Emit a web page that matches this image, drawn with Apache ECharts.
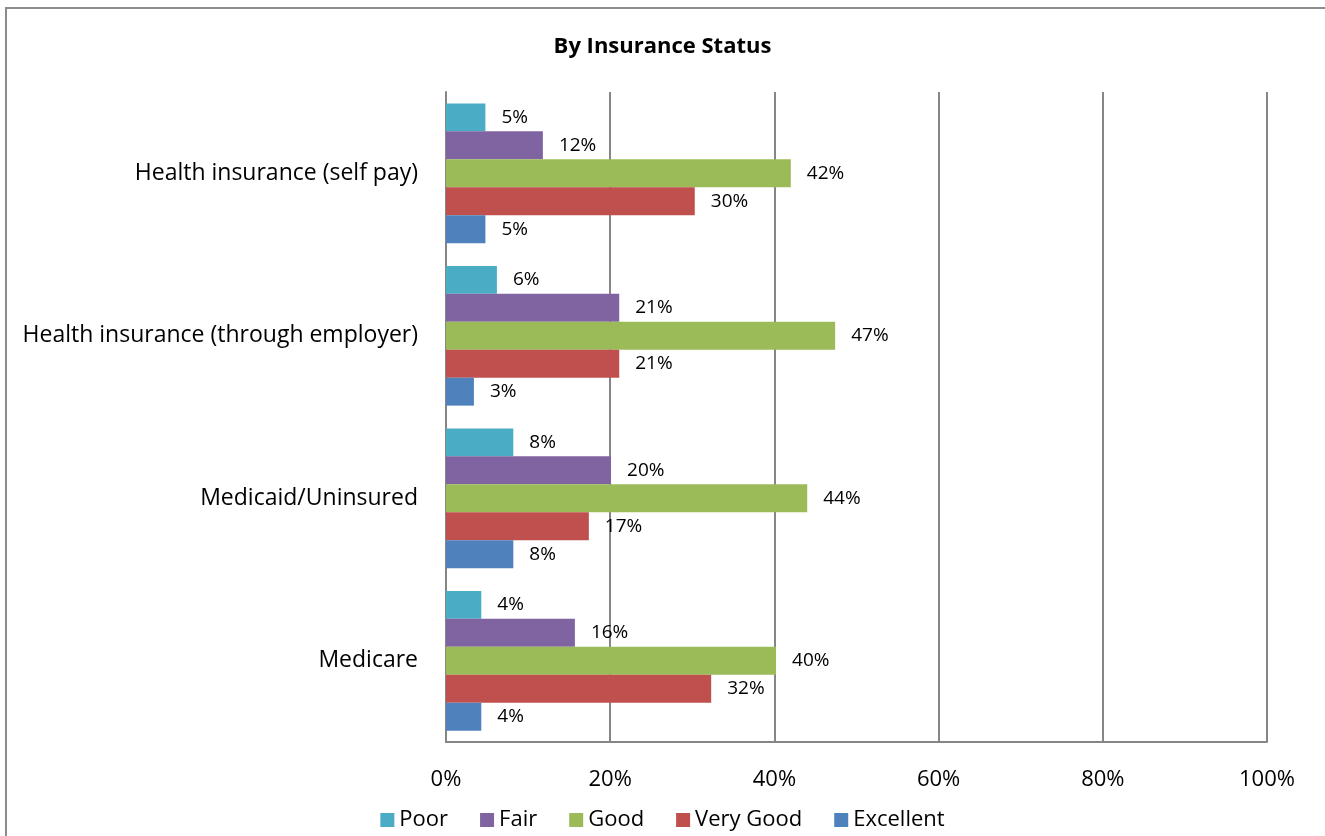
<!DOCTYPE html>
<html><head><meta charset="utf-8">
<script src="https://cdn.jsdelivr.net/npm/echarts@6/dist/echarts.min.js"></script>
<style>html,body{margin:0;padding:0;background:#fff}#c{width:1325px;height:836px}</style>
</head><body><div id="c"></div>
<script>
const categories = ['Health insurance (self pay)', 'Health insurance (through employer)', 'Medicaid/Uninsured', 'Medicare'];
const seriesNames = ['Poor', 'Fair', 'Good', 'Very Good', 'Excellent'];
const poor = [4.8, 6.2, 8.2, 4.3];
const fair = [11.8, 21.1, 20.1, 15.7];
const good = [42.0, 47.4, 44.0, 40.2];
const veryGood = [30.3, 21.1, 17.4, 32.3];
const excellent = [4.8, 3.4, 8.2, 4.3];
const xTicks = [0, 20, 40, 60, 80, 100];
const colors = ['#4BACC6', '#8064A2', '#9BBB59', '#C0504D', '#4F81BD'];
const values = [poor, fair, good, veryGood, excellent];
const FONT = '"Open Sans", Lato, sans-serif';

const chart = echarts.init(document.getElementById('c'));
chart.setOption({
  animation: false,
  title: { text: 'By Insurance Status', left: 'center', top: 31,
    textStyle: { fontFamily: FONT, fontSize: 22, fontWeight: 'bold', color: '#000' } },
  legend: { top: 804, left: 'center', itemWidth: 14, itemHeight: 14, itemGap: 32,
    icon: 'rect', textStyle: { fontFamily: FONT, fontSize: 22, color: '#000' },
    data: seriesNames },
  grid: { left: 446, right: 58, top: 92, bottom: 94, containLabel: false },
  xAxis: { type: 'value', min: 0, max: 100, interval: 20,
    axisLine: { show: true, lineStyle: { color: '#868686', width: 2 } },
    axisTick: { show: false },
    splitLine: { show: true, lineStyle: { color: '#868686', width: 2 } },
    axisLabel: { margin: 27, fontFamily: FONT, fontSize: 22, color: '#000',
      formatter: v => xTicks.includes(v) ? v + '%' : '' } },
  yAxis: { type: 'category', data: categories, inverse: true,
    axisLine: { show: true, lineStyle: { color: '#868686', width: 2 } },
    axisTick: { show: false },
    axisLabel: { margin: 28, fontFamily: FONT, fontSize: 23, color: '#000', padding: [6, 0, 0, 0] } },
  graphic: [{ type: 'rect', shape: { x: 6, y: 8, width: 1330, height: 840 },
    style: { fill: 'none', stroke: '#8c8c8c', lineWidth: 2 }, silent: true }],
  series: seriesNames.map((n, i) => ({
    name: n, type: 'bar', data: values[i], barGap: '0%', barCategoryGap: '14%',
    itemStyle: { color: colors[i] },
    label: { show: true, position: 'right', distance: 16, fontFamily: FONT, fontSize: 19, color: '#000',
      formatter: p => Math.round(p.value) + '%' }
  }))
});
</script></body></html>
